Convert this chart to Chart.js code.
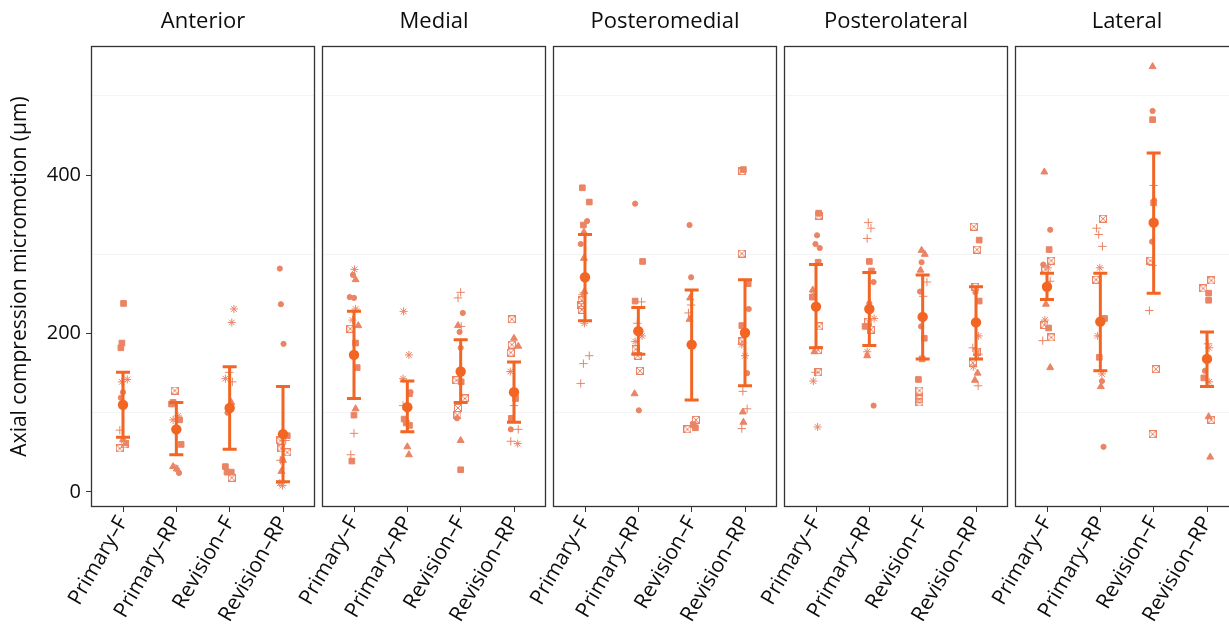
<!DOCTYPE html>
<html><head><meta charset="utf-8">
<script src="https://cdn.jsdelivr.net/npm/chart.js@4"></script>
<style>
html,body{margin:0;padding:0;background:#fff;overflow:hidden;width:1229px;height:624px;}
#wrap{position:relative;width:1229px;height:624px;overflow:hidden;background:#fff;}
#wrap canvas{position:absolute;top:0;}
</style></head><body><div id="wrap"></div>
<script>
// ---------- data ----------
const panelNames = ['Anterior','Medial','Posteromedial','Posterolateral','Lateral'];
const groupNames = ['Primary–F','Primary–RP','Revision–F','Revision–RP'];
const yTickValues = [0,200,400];
const yGridValues = [100,300,500];
const yAxisTitle = 'Axial compression micromotion (μm)';

const meanValues = [[110,79,106,73],[173,107,152,126],[271,203,186,201],[234,231,221,214],[259,215,340,168]];
const ciLower   = [[69,47,54,13],[118,76,113,88],[216,174,116,134],[182,185,168,168],[243,153,251,133]];
const ciUpper   = [[151,113,158,133],[228,140,192,164],[325,233,255,268],[287,277,274,259],[276,276,428,202]];

// individual specimens (value), marker code per point, horizontal jitter (category units)
const anteriorValues = [
 [238,188,182,139,142,126,119,78,66,61,60,55],
 [128,113,111,96,91,91,60,32,30,29,24],
 [231,214,151,143,139,113,100,32,25,25,18],
 [282,237,187,71,65,65,55,50,41,40,40,26,11,8]];
const anteriorMarkers = ['sssaaoopttxx','xssaasstato','aapaptosssx','ooosxpxxopttaa'];
const anteriorJitter = [
 [.01,-.02,-.04,-.02,.08,0,-.04,-.06,0,.05,.03,-.06],
 [-.03,-.06,-.09,.03,-.06,.06,.09,-.06,-.01,.01,.05],
 [.08,.04,-.01,-.08,.05,.03,-.04,-.08,-.05,.03,.04],
 [-.06,-.04,.01,.08,-.05,.05,-.03,.08,-.01,-.05,0,-.03,-.06,-.01]];

const medialValues = [
 [281,274,268,246,245,231,217,210,206,188,157,105,97,74,47,39],
 [228,173,143,126,124,109,92,87,84,57,47],
 [252,245,226,210,209,202,182,141,139,118,106,97,93,65,28],
 [218,194,186,184,176,152,118,109,93,79,79,64,61]];
const medialMarkers = ['aotooaatxsstspps','aaaospssstt','ppotpooxsxxxots','xtxtxaspsoppa'];
const medialJitter = [
 [.01,-.02,.03,-.08,0,.03,-.03,.08,-.07,.03,.06,.03,0,0,-.06,-.04],
 [-.07,.03,-.08,.06,.04,-.08,-.06,-.02,.04,0,.03],
 [0,-.05,.04,-.05,.01,-.02,0,-.08,.01,.08,-.05,-.06,-.07,0,0],
 [-.04,0,-.04,.08,-.06,-.07,.03,0,-.05,-.06,.08,-.06,.07]];

const posteromedialValues = [
 [384,366,342,337,328,313,295,253,249,242,236,230,213,172,162,137],
 [364,291,241,240,213,197,190,180,172,153,124,103],
 [337,271,245,236,226,218,91,85,81,79],
 [407,405,301,263,231,210,190,186,172,150,127,105,101,88,80]];
const posteromedialMarkers = ['ssostottaxxxappp','ossppaaxxxto','ootpptxssx','sxxsosxaaoppttp'];
const posteromedialJitter = [
 [-.05,.08,.04,-.03,-.02,-.08,-.02,-.01,-.05,-.06,-.07,-.06,-.01,.08,-.03,-.08],
 [-.06,.08,-.06,.06,-.02,.07,-.06,-.05,-.01,.03,-.07,.01],
 [-.04,-.01,-.03,-.01,-.06,-.04,.08,.03,.07,-.08],
 [-.03,-.05,-.06,.06,.07,-.06,-.05,-.06,0,.04,-.04,.04,-.04,-.03,-.06]];

const posterolateralValues = [
 [352,349,324,313,308,290,255,249,246,209,179,177,151,151,140,82],
 [340,333,320,291,279,265,238,219,215,209,205,177,172,109],
 [305,300,290,280,265,253,247,209,194,168,142,128,117,113],
 [335,318,306,259,252,241,197,182,177,174,163,158,150,141,134]];
const posterolateralMarkers = ['sxooostasxxtxpaa','pppssooaxsxato','ttotpoposssxxx','xsxxosapxpxattp'];
const posterolateralJitter = [
 [.05,.05,.02,-.01,.07,.04,-.06,-.05,-.07,.06,.04,-.03,.04,-.01,-.05,.03],
 [-.02,.03,-.04,0,.04,.08,0,.09,-.02,-.08,.03,-.04,-.04,.08],
 [-.02,.04,-.02,-.04,.08,-.05,.01,-.03,.03,-.01,-.08,-.06,-.06,-.06],
 [-.04,.06,.02,-.01,-.01,.06,.05,-.06,.01,.05,-.06,-.05,.03,-.02,.04]];

const lateralValues = [
 [404,331,306,292,287,283,281,266,237,217,211,207,195,191,157],
 [345,333,325,310,283,268,219,197,170,149,140,133,57],
 [537,481,470,387,368,365,316,292,286,229,155,73],
 [267,257,251,242,187,182,153,144,139,95,91,44]];
const lateralMarkers = ['tosxoaxptaxsxpt','xpppaxsasaoto','tosposoxppxx','xxsspaosatxt'];
const lateralJitter = [
 [-.05,.06,.04,.08,-.07,.02,-.03,.06,-.02,-.04,-.05,.03,.08,-.08,.06],
 [.05,-.07,-.03,.04,-.01,-.08,.08,-.05,-.02,.03,.03,.01,.06],
 [-.02,-.02,-.02,0,.01,0,-.03,-.06,-.02,-.08,.04,-.02],
 [.08,-.07,.03,.03,.02,.04,-.04,-.06,.04,.03,.08,.06]];

const panelValues = [anteriorValues, medialValues, posteromedialValues, posterolateralValues, lateralValues];
const panelMarkers = [anteriorMarkers, medialMarkers, posteromedialMarkers, posterolateralMarkers, lateralMarkers];
const panelJitter = [anteriorJitter, medialJitter, posteromedialJitter, posterolateralJitter, lateralJitter];

// ---------- styling ----------
const ORANGE = '#F26522';
const SALMON = 'rgb(234,132,100)';
const TEXT = '#0d0d0d';
const FONT = "'Open Sans', 'Noto Sans', sans-serif";
Chart.defaults.font.family = FONT;

function makeBoxX(){
  const c = document.createElement('canvas'); c.width = 8; c.height = 8;
  const g = c.getContext('2d');
  g.strokeStyle = SALMON; g.lineWidth = 1;
  g.strokeRect(0.5,0.5,7,7);
  g.beginPath(); g.moveTo(1,1); g.lineTo(7,7); g.moveTo(7,1); g.lineTo(1,7); g.stroke();
  return c;
}
const boxX = makeBoxX();
const markerStyle = {o:'circle', s:'rect', t:'triangle', p:'cross', a:'star', x:boxX};
const markerRadius = {o:2.6, s:4.0, t:4.0, p:4.2, a:4.0, x:4};

const boxPlugin = {
  id:'panelBox',
  beforeDatasetsDraw(chart){
    const a = chart.chartArea, c = chart.ctx;
    c.save(); c.strokeStyle = '#333'; c.lineWidth = 1.3;
    c.strokeRect(Math.round(a.left)+0.5, Math.round(a.top)+0.5, Math.round(a.right-a.left)-1, Math.round(a.bottom-a.top)-1);
    c.restore();
  }
};
const errPlugin = {
  id:'errbars',
  afterDatasetDraw(chart, args, opts){
    if (args.index !== 1) return;
    const p = opts.panel, xs = chart.scales.x, ys = chart.scales.y, c = chart.ctx;
    c.save(); c.strokeStyle = ORANGE; c.lineWidth = 3;
    for (let g = 0; g < groupNames.length; g++){
      const x = xs.getPixelForValue(g+1);
      const y1 = ys.getPixelForValue(ciLower[p][g]);
      const y2 = ys.getPixelForValue(ciUpper[p][g]);
      c.beginPath();
      c.moveTo(x,y1); c.lineTo(x,y2);
      c.moveTo(x-7,y1); c.lineTo(x+7,y1);
      c.moveTo(x-7,y2); c.lineTo(x+7,y2);
      c.stroke();
    }
    c.restore();
  }
};

const wrap = document.getElementById('wrap');
const AREA_W = 224;
panelNames.forEach((name, i) => {
  const yW = i === 0 ? 91 : 80;
  const areaLeft = 91 + Math.round(i * 230.9);
  const cv = document.createElement('canvas');
  cv.width = yW + AREA_W + 6; cv.height = 624;
  cv.style.left = (areaLeft - yW) + 'px';
  wrap.appendChild(cv);

  const pts = [], styles = [], radii = [];
  panelValues[i].forEach((vals, g) => {
    vals.forEach((v, k) => {
      const m = panelMarkers[i][g][k];
      pts.push({x: g + 1 + panelJitter[i][g][k], y: v});
      styles.push(markerStyle[m]);
      radii.push(markerRadius[m]);
    });
  });

  new Chart(cv, {
    type:'scatter',
    data:{datasets:[
      {data: meanValues[i].map((m,g)=>({x:g+1, y:m})), pointStyle:'circle', pointRadius:5.2,
       backgroundColor:ORANGE, borderColor:ORANGE, borderWidth:0},
      {data: pts, pointStyle: styles, pointRadius: radii, backgroundColor:SALMON, borderColor:SALMON, borderWidth:1}
    ]},
    options:{
      responsive:false, animation:false, events:[],
      layout:{padding:{top:0,left:0,right:6,bottom:0}},
      plugins:{
        legend:{display:false}, tooltip:{enabled:false},
        title:{display:true, text:name, fullSize:false, color:TEXT,
               font:{size:22, weight:'normal', family:FONT, lineHeight:1.2}, padding:{top:9,bottom:10.6}},
        errbars:{panel:i}
      },
      scales:{
        x:{type:'linear', min:0.4, max:4.6,
           afterBuildTicks:s=>{ s.ticks = groupNames.map((_,g)=>({value:g+1})); },
           ticks:{callback:v=>groupNames[Math.round(v)-1], minRotation:60, maxRotation:60, autoSkip:false,
                  font:{size:21, family:FONT}, color:TEXT, padding:0},
           grid:{drawOnChartArea:false, drawTicks:true, tickLength:5, tickColor:'#333', color:'#333'},
           border:{display:false},
           afterFit:s=>{ s.height = 117; s.paddingLeft = 0; s.paddingRight = 0; }},
        y:{type:'linear', min:-19, max:563,
           afterBuildTicks:s=>{ s.ticks = [0,100,200,300,400,500].map(v=>({value:v})); },
           ticks:{display:i===0, callback:v=>yTickValues.includes(v)?String(v):'',
                  font:{size:20, family:FONT}, color:TEXT, padding:5},
           grid:{color:ctx=>yGridValues.includes(ctx.tick && ctx.tick.value)?'#f4f4f4':'rgba(0,0,0,0)',
                 drawTicks:i===0, tickLength:5,
                 tickColor:ctx=>yTickValues.includes(ctx.tick && ctx.tick.value)?'#333':'rgba(0,0,0,0)'},
           border:{display:false},
           title:{display:i===0, text:yAxisTitle, color:TEXT, font:{size:21, family:FONT, lineHeight:1.2}, padding:{top:7.5,bottom:0}},
           afterFit:s=>{ s.width = yW; s.paddingTop = 0; s.paddingBottom = 0; }}
      }
    },
    plugins:[boxPlugin, errPlugin]
  });
});
</script>
</body></html>
